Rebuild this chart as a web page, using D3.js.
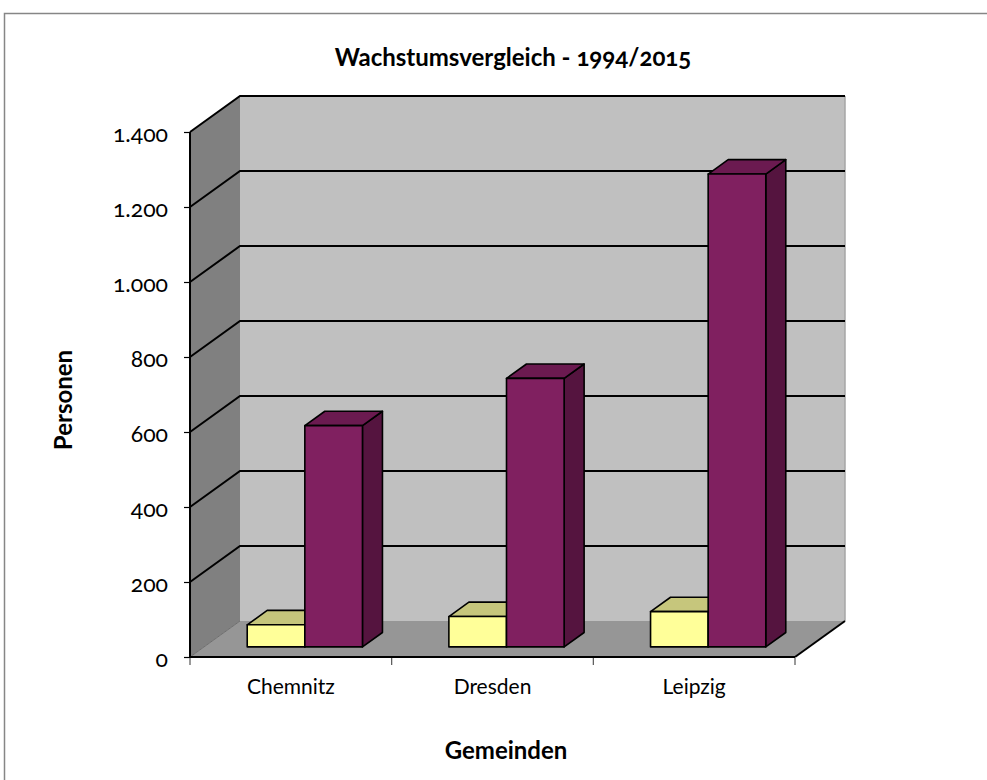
<!DOCTYPE html>
<html>
<head>
<meta charset="utf-8">
<script src="https://cdn.jsdelivr.net/npm/d3@7"></script>
<style>
  html, body { margin: 0; padding: 0; background: #fff; overflow: hidden; }
  svg { display: block; }
  svg text { font-family: Lato, "Open Sans", sans-serif; font-variant-numeric: oldstyle-nums; font-feature-settings: "onum" 1; fill: #000; }
</style>
</head>
<body>
<svg id="chart" width="987" height="780"></svg>
<script>
// Gemeinden (categories) and the two series per Gemeinde
const categories = ["Chemnitz", "Dresden", "Leipzig"];
const series = ["1994", "2015"];
const values1994 = [59, 81, 94];
const values2015 = [590, 716, 1261];
const yTicks = [0, 200, 400, 600, 800, 1000, 1200, 1400];

const title = "Wachstumsvergleich - 1994/2015";
const yTitle = "Personen";
const xTitle = "Gemeinden";

const colors = {
  "1994": { front: "#ffff99", top: "#c6c67c", side: "#9a9a60" },
  "2015": { front: "#802060", top: "#6b1a50", side: "#55143f" }
};

const svg = d3.select("#chart");

// oblique depth offset of the whole plot box
const DX = 50, DY = 36;
// bar depth placement (fraction of the box depth)
const z0 = 0.28, z1 = 0.68;

const x = d3.scaleBand().domain(categories).range([190, 795]).paddingInner(0).paddingOuter(0);
const xs = d3.scaleBand().domain(series).range([0, x.bandwidth()]).paddingInner(0).paddingOuter(0.75);
const y = d3.scaleLinear().domain([0, 1400]).range([657, 132]);

const proj = (px, v, z) => [px + z * DX, y(v) - z * DY];
const poly = pts => "M" + pts.map(p => p.join(",")).join("L") + "Z";

// outer frame (only its top and left edges fall inside the page)
svg.append("path").attr("d", "M4.5,800V13.5H1000")
  .attr("fill", "none").attr("stroke", "#868686").attr("stroke-width", 1.5);

const x0 = x.range()[0], x1 = x.range()[1];
const vMax = y.domain()[1];

// side wall
svg.append("path")
  .attr("d", poly([proj(x0, 0, 0), proj(x0, vMax, 0), proj(x0, vMax, 1), proj(x0, 0, 1)]))
  .attr("fill", "#808080");
// back wall
svg.append("path")
  .attr("d", poly([proj(x0, 0, 1), proj(x0, vMax, 1), proj(x1, vMax, 1), proj(x1, 0, 1)]))
  .attr("fill", "#c0c0c0");
// back wall right edge
svg.append("line")
  .attr("x1", proj(x1, 0, 1)[0]).attr("y1", proj(x1, 0, 1)[1])
  .attr("x2", proj(x1, vMax, 1)[0]).attr("y2", proj(x1, vMax, 1)[1])
  .attr("stroke", "#a6a6a6").attr("stroke-width", 1.5);

// gridlines along side wall and back wall
const grid = svg.append("g");
yTicks.filter(t => t > 0).forEach(t => {
  const a = proj(x0, t, 0), b = proj(x0, t, 1), c = proj(x1, t, 1);
  grid.append("path").attr("d", `M${a}L${b}L${c}`)
    .attr("fill", "none").attr("stroke", "#000").attr("stroke-width", 2);
});

// floor
svg.append("path")
  .attr("d", poly([proj(x0, 0, 0), proj(x0, 0, 1), proj(x1, 0, 1), proj(x1, 0, 0)]))
  .attr("fill", "#969696");
svg.append("line")
  .attr("x1", proj(x0, 0, 0)[0]).attr("y1", proj(x0, 0, 0)[1])
  .attr("x2", proj(x0, 0, 1)[0]).attr("y2", proj(x0, 0, 1)[1])
  .attr("stroke", "#6e6e6e").attr("stroke-width", 1);
svg.append("line")
  .attr("x1", proj(x1, 0, 0)[0]).attr("y1", proj(x1, 0, 0)[1])
  .attr("x2", proj(x1, 0, 1)[0]).attr("y2", proj(x1, 0, 1)[1])
  .attr("stroke", "#000").attr("stroke-width", 2);

// bars
const barData = [];
categories.forEach((c, i) => {
  barData.push({ cat: c, ser: "1994", value: values1994[i] });
  barData.push({ cat: c, ser: "2015", value: values2015[i] });
});
const bars = svg.append("g").attr("stroke", "#000").attr("stroke-width", 1.6).attr("stroke-linejoin", "round");
barData.forEach(d => {
  const bx0 = x(d.cat) + xs(d.ser), bx1 = bx0 + xs.bandwidth();
  const col = colors[d.ser];
  // side face
  bars.append("path").attr("fill", col.side)
    .attr("d", poly([proj(bx1, 0, z0), proj(bx1, d.value, z0), proj(bx1, d.value, z1), proj(bx1, 0, z1)]));
  // top face
  bars.append("path").attr("fill", col.top)
    .attr("d", poly([proj(bx0, d.value, z0), proj(bx0, d.value, z1), proj(bx1, d.value, z1), proj(bx1, d.value, z0)]));
  // front face
  bars.append("path").attr("fill", col.front)
    .attr("d", poly([proj(bx0, 0, z0), proj(bx0, d.value, z0), proj(bx1, d.value, z0), proj(bx1, 0, z0)]));
});

// value axis (front-left edge)
const yAxis = d3.axisLeft(y).tickValues(yTicks).tickSize(6).tickPadding(16)
  .tickFormat(d => d3.format(",")(d).replace(/,/g, "."));
const gy = svg.append("g").attr("transform", `translate(${x0},0)`).call(yAxis);
gy.select(".domain").attr("stroke", "#000").attr("stroke-width", 2).attr("d", `M0,${y(0)}V${y(vMax)}`);
gy.selectAll(".tick line").attr("stroke", "#000").attr("stroke-width", 1.2);
gy.selectAll(".tick text").attr("font-size", 23).attr("dy", "0.42em").style("font-family", "Lato, sans-serif");

// category axis (front edge)
const xAxis = d3.axisBottom(x).tickSize(0).tickPadding(22);
const gx = svg.append("g").attr("transform", `translate(0,${y(0)})`).call(xAxis);
gx.select(".domain").attr("stroke", "#000").attr("stroke-width", 2).attr("d", `M${x0},0H${x1}`);
gx.selectAll(".tick text").attr("font-size", 21).attr("dy", "0.72em").style("font-family", "Lato, sans-serif");
// boundary ticks between categories
const bounds = categories.map(c => x(c)).concat([x1]);
gx.selectAll(".bound").data(bounds).enter().append("line")
  .attr("x1", d => d).attr("x2", d => d).attr("y1", 1).attr("y2", 8)
  .attr("stroke", "#555").attr("stroke-width", 1.2);

// titles
svg.append("text").attr("x", 513).attr("y", 66).attr("text-anchor", "middle")
  .attr("font-size", 24).attr("font-weight", "bold").text(title);
svg.append("text").attr("transform", "translate(72,400) rotate(-90)").attr("text-anchor", "middle")
  .attr("font-size", 24).attr("font-weight", "bold").text(yTitle);
svg.append("text").attr("x", 506).attr("y", 759).attr("text-anchor", "middle")
  .attr("font-size", 24).attr("font-weight", "bold").text(xTitle);
</script>
</body>
</html>
